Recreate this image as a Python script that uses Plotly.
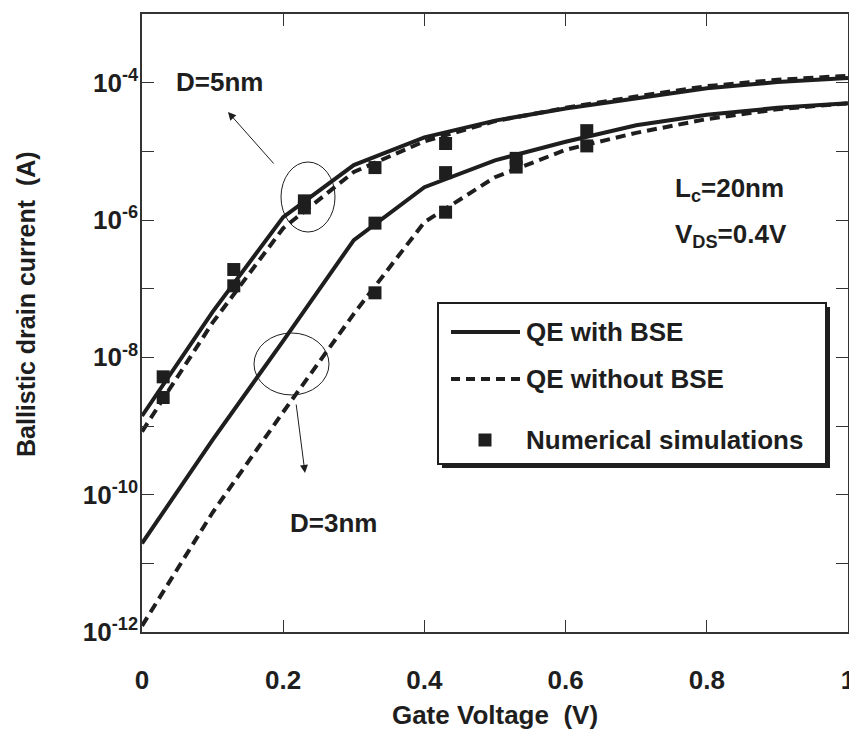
import plotly.graph_objects as go

# ---------------- data ----------------
vg = [0.0, 0.1, 0.2, 0.3, 0.4, 0.5, 0.6, 0.7, 0.8, 0.9, 1.0]

d5_with_bse = [1.4e-9, 4.6e-8, 1.1e-6, 6.3e-6, 1.6e-5, 2.8e-5, 4.2e-5, 6.0e-5, 8.3e-5, 1.02e-4, 1.17e-4]
d5_without_bse = [8.3e-10, 3.2e-8, 7.6e-7, 5.0e-6, 1.4e-5, 2.75e-5, 4.3e-5, 6.3e-5, 8.9e-5, 1.1e-4, 1.26e-4]
d3_with_bse = [1.95e-11, 6.3e-10, 1.74e-8, 5.1e-7, 3.0e-6, 7.4e-6, 1.38e-5, 2.4e-5, 3.4e-5, 4.3e-5, 5.0e-5]
d3_without_bse = [1.23e-12, 5.5e-11, 1.6e-9, 4.3e-8, 9.3e-7, 4.2e-6, 1.05e-5, 1.86e-5, 2.95e-5, 4.1e-5, 5.0e-5]

sim_vg = [0.03, 0.03, 0.13, 0.13, 0.23, 0.23, 0.33, 0.33, 0.33,
          0.43, 0.43, 0.43, 0.53, 0.53, 0.63, 0.63]
sim_current = [5.2e-9, 2.6e-9, 1.9e-7, 1.1e-7, 1.9e-6, 1.5e-6, 5.8e-6, 9.0e-7, 8.7e-8,
               1.3e-5, 4.9e-6, 1.3e-6, 7.9e-6, 5.9e-6, 2.0e-5, 1.2e-5]

x_tickvals = [0, 0.2, 0.4, 0.6, 0.8, 1.0]
x_ticktext = ["0", "0.2", "0.4", "0.6", "0.8", "1"]
y_exponents = [-12, -11, -10, -9, -8, -7, -6, -5, -4, -3]
y_labelled = [-12, -10, -8, -6, -4]

legend_labels = ["QE with BSE", "QE without BSE", "Numerical simulations"]

# ---------------- style ----------------
FONT = "Arial, Liberation Sans, Helvetica, sans-serif"
INK = "#1e1e1e"
FS = 26
W, H = 849, 737
ML, MR, MT, MB = 142, 1, 14, 105
PW, PH = W - ML - MR, H - MT - MB


def px(xp):
    # window pixel x -> paper fraction
    return (xp - ML) / PW


def py(yp):
    # window pixel y -> paper fraction
    return (H - MB - yp) / PH


solid = dict(color=INK, width=4)
dashed = dict(color=INK, width=4, dash="10px,6px")

fig = go.Figure()
fig.add_trace(go.Scatter(x=vg, y=d5_with_bse, mode="lines", line=solid,
                         name=legend_labels[0], legendgroup="a", showlegend=False))
fig.add_trace(go.Scatter(x=vg, y=d3_with_bse, mode="lines", line=solid,
                         name=legend_labels[0], legendgroup="a", showlegend=False))
fig.add_trace(go.Scatter(x=vg, y=d5_without_bse, mode="lines", line=dashed,
                         name=legend_labels[1], legendgroup="b", showlegend=False))
fig.add_trace(go.Scatter(x=vg, y=d3_without_bse, mode="lines", line=dashed,
                         name=legend_labels[1], legendgroup="b", showlegend=False))
fig.add_trace(go.Scatter(x=sim_vg, y=sim_current, mode="markers",
                         marker=dict(symbol="square", size=13, color=INK),
                         name=legend_labels[2], showlegend=False))

axis_common = dict(
    showline=True, linecolor="#333", linewidth=1.5, mirror="ticks",
    ticks="inside", ticklen=12, tickwidth=1, tickcolor="#333",
    showgrid=False, zeroline=False, ticklabeloverflow="allow",
    tickfont=dict(family=FONT, size=FS, color=INK),
)

fig.update_xaxes(
    range=[0, 1], tickvals=x_tickvals,
    ticktext=[f"<b>{t}</b>" for t in x_ticktext],
    ticklabelstandoff=24,
    title=dict(text="<b>Gate Voltage&nbsp;&nbsp;(V)</b>", font=dict(family=FONT, size=FS, color=INK), standoff=12),
    **axis_common,
)
fig.update_yaxes(
    type="log", range=[-12, -3],
    tickvals=[10.0 ** e for e in y_exponents],
    ticktext=[f"<b>10<sup>{e}</sup></b>" if e in y_labelled else "" for e in y_exponents],
    ticklabelstandoff=-3,
    **axis_common,
)

shapes = []
annotations = []


def label(xw, yw, text, xanchor="center", size=FS, angle=0):
    annotations.append(dict(xref="paper", yref="paper", x=px(xw), y=py(yw), text=text,
                            xanchor=xanchor, yanchor="middle", showarrow=False, textangle=angle,
                            font=dict(family=FONT, size=size, color=INK)))


# y-axis title
label(26, 304, "<b>Ballistic drain current&nbsp;&nbsp;(A)</b>", size=25, angle=-90)

# ellipses
shapes.append(dict(type="circle", xref="paper", yref="paper",
                   x0=px(281), x1=px(335), y0=py(232), y1=py(162),
                   line=dict(color=INK, width=1)))
shapes.append(dict(type="circle", xref="paper", yref="paper",
                   x0=px(254), x1=px(329), y0=py(395), y1=py(333),
                   line=dict(color=INK, width=1)))

# arrows
annotations.append(dict(xref="paper", yref="paper", x=px(228), y=py(112), ax=47, ay=53,
                        text="", showarrow=True, arrowhead=2, arrowsize=1.6,
                        arrowwidth=1, arrowcolor=INK))
annotations.append(dict(xref="paper", yref="paper", x=px(305), y=py(473), ax=-9, ay=-70,
                        text="", showarrow=True, arrowhead=2, arrowsize=1.6,
                        arrowwidth=1, arrowcolor=INK))

# labels
label(219, 82, "<b>D=5nm</b>")
label(333, 523, "<b>D=3nm</b>")
label(673, 189, "<b>L<sub>c</sub>=20nm</b>", xanchor="left")
label(673, 236, "<b>V<sub>DS</sub>=0.4V</b>", xanchor="left")

# manual legend box with shadow
shapes.append(dict(type="rect", xref="paper", yref="paper",
                   x0=px(442), x1=px(830), y0=py(468), y1=py(307),
                   fillcolor=INK, line=dict(width=0)))
shapes.append(dict(type="rect", xref="paper", yref="paper",
                   x0=px(438), x1=px(826), y0=py(464), y1=py(303),
                   fillcolor="white", line=dict(color=INK, width=2)))
shapes.append(dict(type="line", xref="paper", yref="paper",
                   x0=px(451), x1=px(520), y0=py(332), y1=py(332), line=solid))
shapes.append(dict(type="line", xref="paper", yref="paper",
                   x0=px(451), x1=px(520), y0=py(379), y1=py(379),
                   line=dict(color=INK, width=4, dash="9px,6px")))
shapes.append(dict(type="rect", xref="paper", yref="paper",
                   x0=px(478.5), x1=px(491.5), y0=py(446.5), y1=py(433.5),
                   fillcolor=INK, line=dict(width=0)))
for lbl, yy in zip(legend_labels, [332, 379, 440]):
    label(524, yy, f"<b>{lbl}</b>", xanchor="left")

fig.update_layout(
    width=W, height=H,
    margin=dict(l=ML, r=MR, t=MT, b=MB, autoexpand=False),
    plot_bgcolor="white", paper_bgcolor="white",
    showlegend=False,
    shapes=shapes, annotations=annotations,
    font=dict(family=FONT, color=INK),
)

# remove the default page margin so the 849x737 figure fills the window exactly
fig.write_html("out.html",
               config={"displayModeBar": False},
               post_script="document.body.style.margin='0';document.body.style.overflow='hidden';")
